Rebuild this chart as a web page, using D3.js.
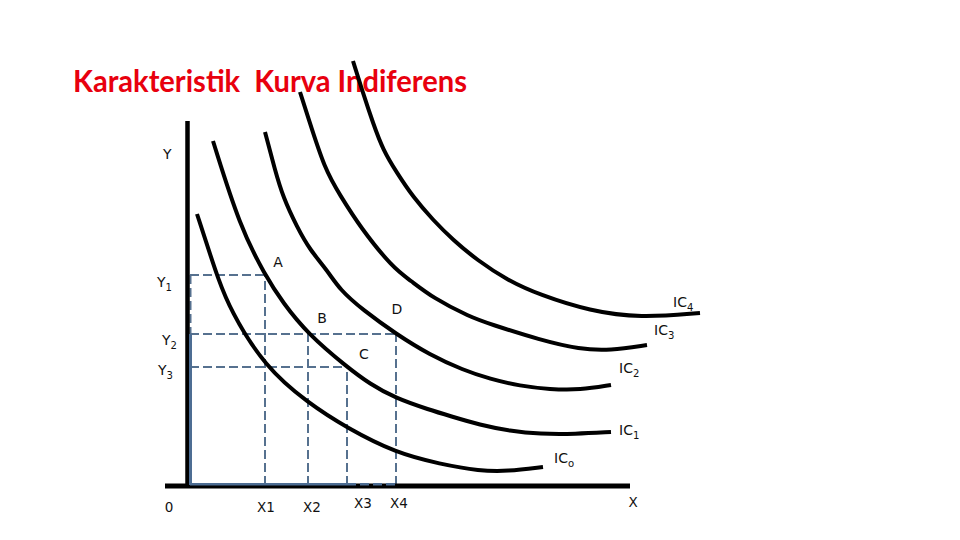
<!DOCTYPE html>
<html>
<head>
<meta charset="utf-8">
<script src="https://cdn.jsdelivr.net/npm/d3@7"></script>
<style>
  body { margin: 0; background: #ffffff; }
  svg { display: block; }
</style>
</head>
<body>
<svg id="chart" width="960" height="540"></svg>
<script>
// ---------------- DATA ----------------
const titleText = "Karakteristik  Kurva Indiferens";

// Indifference curves (X quantity, Y quantity)
const ic0 = [[1.4,67.75],[4.4,56.25],[5.4,52.5],[8,43.75],[15,29.5],[23.6,20.5],[31.4,14.25],[41.2,8],[50,5.25],[58,3.5],[63.4,3.4],[70.6,4.5]];
const ic1 = [[4.6,86],[10,64.5],[15,52.5],[18.6,45.5],[23.6,37.75],[31.4,29.5],[36,25.25],[41,21.75],[48,18.75],[52,17.25],[58,15],[64,13.5],[70,12.75],[77,12.75],[84.2,13.25]];
const ic2 = [[15,88.25],[17,78.75],[18.6,72],[21.4,64.5],[24,58.75],[27.4,53.75],[30,48.75],[34.6,43.75],[41.2,37.75],[48,32.5],[54.6,28.75],[60,26.5],[66,24.75],[72,23.9],[78,23.75],[84.2,25]];
const ic3 = [[22,98.25],[23.6,92],[27,78.75],[30,72.5],[34,64.5],[40.6,54.25],[44,51.25],[48.6,46.75],[56,42],[60,40.25],[70,36.25],[78,33.9],[84,33.6],[91.4,35]];
const ic4 = [[32.6,106],[34.6,98],[36.6,90.5],[38.6,83.75],[41.4,78],[44.6,72],[48.6,66.25],[52.6,61.25],[57.4,56.25],[63.4,51.25],[70,47.5],[80,43.5],[90,41.75],[102,43]];

const curveNames = ["IC", "IC", "IC", "IC", "IC"];
const curveSubs  = ["o", "1", "2", "3", "4"];
const curves = [ic0, ic1, ic2, ic3, ic4];

// Bundles A, B, C, D
const pointNames = ["A", "B", "C", "D"];
const pointX = [15, 23.6, 31.4, 41.2];
const pointY = [52.5, 37.75, 29.5, 37.75];

// Y levels
const yLevelNames = ["Y", "Y", "Y"];
const yLevelSubs  = ["1", "2", "3"];
const yLevelValues = [52.5, 37.75, 29.5];

// X tick labels
const xTickLabels = ["0", "X1", "X2", "X3", "X4", "X"];
const xTickValues = [0, 15, 23.6, 31.4, 41.2, 88];

const axisXExtent = [-5, 88];
const axisYExtent = [0, 91];

// ---------------- LAYOUT ----------------
const svg = d3.select("#chart");
const x = d3.scaleLinear().domain([0, 100]).range([190, 690]);
const y = d3.scaleLinear().domain([0, 100]).range([485, 85]);

const FONT = "'DejaVu Sans', Verdana, sans-serif";
const DASH_COLOR = "#56718f";
const BLUE = "#4d6d93";

// Title
svg.append("text")
  .attr("x", 73).attr("y", 92)
  .attr("textLength", 394).attr("lengthAdjust", "spacingAndGlyphs")
  .attr("font-family", "Lato, 'Open Sans', sans-serif")
  .attr("font-weight", 700)
  .attr("font-size", 31)
  .attr("fill", "#e8000e")
  .style("white-space", "pre")
  .text(titleText);

// Dashed guide lines
const guides = svg.append("g")
  .attr("stroke", DASH_COLOR).attr("stroke-width", 2)
  .attr("stroke-dasharray", "9,4").attr("fill", "none");
pointNames.forEach((n, i) => {
  guides.append("line")
    .attr("x1", x(0)).attr("x2", x(pointX[i]))
    .attr("y1", y(pointY[i])).attr("y2", y(pointY[i]));
  guides.append("line")
    .attr("x1", x(pointX[i])).attr("x2", x(pointX[i]))
    .attr("y1", y(0)).attr("y2", y(pointY[i]));
});
// dashed on the Y axis between Y1 and Y2
guides.append("line")
  .attr("x1", x(0.1)).attr("x2", x(0.1))
  .attr("y1", y(yLevelValues[0])).attr("y2", y(yLevelValues[1]));

// Black axes
svg.append("line")
  .attr("x1", x(-0.5)).attr("x2", x(-0.5))
  .attr("y1", y(axisYExtent[0]) + 2).attr("y2", y(axisYExtent[1]))
  .attr("stroke", "#000").attr("stroke-width", 4.5);
svg.append("line")
  .attr("x1", x(axisXExtent[0])).attr("x2", x(axisXExtent[1]))
  .attr("y1", y(-0.25)).attr("y2", y(-0.25))
  .attr("stroke", "#000").attr("stroke-width", 5);

// Blue solid segments on axes
svg.append("line")
  .attr("x1", x(0.1)).attr("x2", x(0.1))
  .attr("y1", y(0)).attr("y2", y(yLevelValues[1]))
  .attr("stroke", BLUE).attr("stroke-width", 3);
svg.append("line")
  .attr("x1", x(0)).attr("x2", x(pointX[2]))
  .attr("y1", y(0.2)).attr("y2", y(0.2))
  .attr("stroke", BLUE).attr("stroke-width", 2.5);
svg.append("line")
  .attr("x1", x(pointX[2])).attr("x2", x(pointX[3]))
  .attr("y1", y(0.2)).attr("y2", y(0.2))
  .attr("stroke", BLUE).attr("stroke-width", 2.5)
  .attr("stroke-dasharray", "9,4");

// Curves
const line = d3.line().x(d => x(d[0])).y(d => y(d[1])).curve(d3.curveBasis);
svg.append("g").selectAll("path").data(curves).join("path")
  .attr("d", line)
  .attr("fill", "none").attr("stroke", "#000").attr("stroke-width", 4);

// Helper for text with subscript
function subText(g, px, py, main, sub, size, anchor) {
  const t = g.append("text")
    .attr("x", px).attr("y", py)
    .attr("font-family", FONT).attr("font-size", size)
    .attr("fill", "#111")
    .attr("text-anchor", anchor || "start");
  t.append("tspan").text(main);
  if (sub) t.append("tspan").attr("font-size", size * 0.72).attr("dy", 4).text(sub);
  return t;
}

const labels = svg.append("g");

// Curve labels (offsets from the end of each curve)
const curveLabelOffsets = [[11,-4],[8,3],[8,-12],[7,-10],[-27,-6]];
curves.forEach((c, i) => {
  const end = c[c.length - 1];
  subText(labels, x(end[0]) + curveLabelOffsets[i][0], y(end[1]) + curveLabelOffsets[i][1],
    curveNames[i], curveSubs[i], 14);
});

// Point labels
const pointLabelOffsets = [[13,-8],[14,-11],[17,-8],[1,-20]];
pointNames.forEach((n, i) => {
  labels.append("text")
    .attr("x", x(pointX[i]) + pointLabelOffsets[i][0])
    .attr("y", y(pointY[i]) + pointLabelOffsets[i][1])
    .attr("text-anchor", "middle")
    .attr("font-family", FONT).attr("font-size", 14).attr("fill", "#111")
    .text(n);
});

// Y level labels
const yLabelOffsets = [[-33,12],[-28,11],[-32,8]];
yLevelValues.forEach((v, i) => {
  subText(labels, x(0) + yLabelOffsets[i][0], y(v) + yLabelOffsets[i][1], yLevelNames[i], yLevelSubs[i], 14);
});

// Y axis label
labels.append("text")
  .attr("x", x(0) - 27).attr("y", y(axisYExtent[1]) + 38)
  .attr("font-family", FONT).attr("font-size", 14).attr("fill", "#111")
  .text("Y");

// X tick labels
const xLabelOffsets = [[-21,27],[1,27],[4,27],[16,23],[3,23],[3,22]];
xTickLabels.forEach((t, i) => {
  labels.append("text")
    .attr("x", x(xTickValues[i]) + xLabelOffsets[i][0])
    .attr("y", y(0) + xLabelOffsets[i][1])
    .attr("text-anchor", "middle")
    .attr("font-family", FONT).attr("font-size", 13.5).attr("fill", "#111")
    .text(t);
});
</script>
</body>
</html>
